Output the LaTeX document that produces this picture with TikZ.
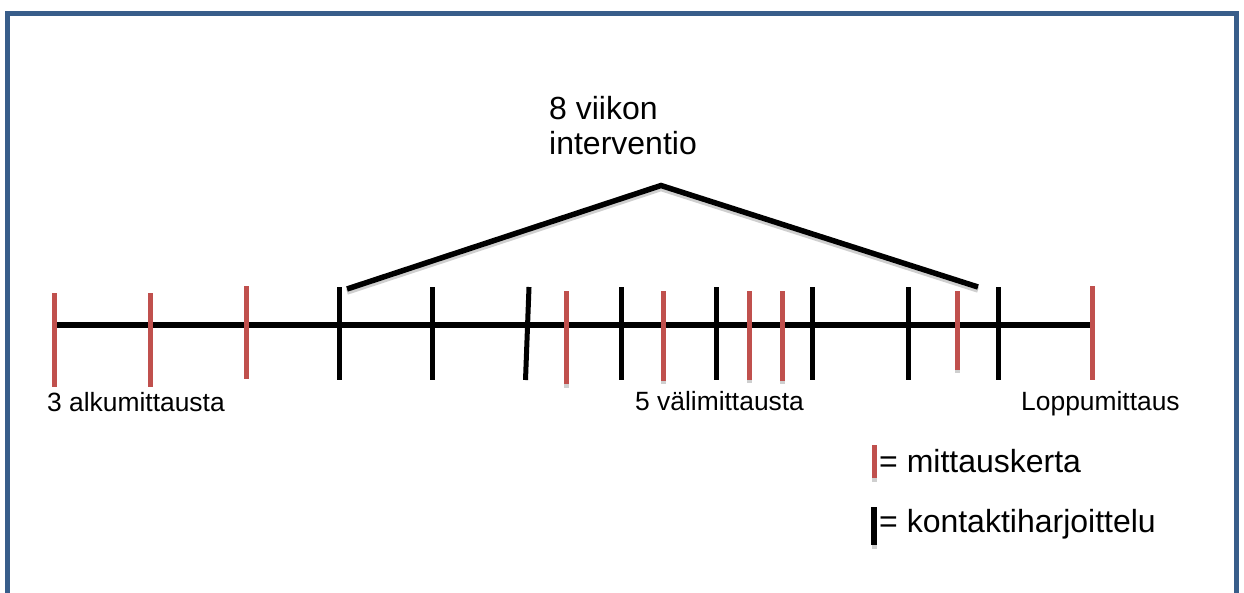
\documentclass[tikz,border=0pt]{standalone}
\usepackage{fontspec}
\setmainfont{Liberation Sans}
\definecolor{frameblue}{HTML}{385D8A}
\definecolor{measred}{HTML}{C0504D}
\definecolor{softshadow}{HTML}{CFCFCF}

\begin{document}
\begin{tikzpicture}[x=1pt,y=-1pt,
  redtick/.style={draw=measred,line width=5pt},
  blacktick/.style={draw=black,line width=5pt},
  tickshadow/.style={draw=softshadow,line width=5pt},
  axisline/.style={draw=black,line width=5.5pt},
  bracketline/.style={draw=black,line width=5.5pt,line join=miter},
  bracketshadow/.style={draw=softshadow,line width=5.5pt,line join=miter},
  smalltext/.style={inner sep=0pt,anchor=base west,font=\fontsize{26.4}{30}\selectfont},
  bigtext/.style={inner sep=0pt,font=\fontsize{32}{35}\selectfont}]

\useasboundingbox (0,0) rectangle (1244,592);
\clip (0,0) rectangle (1244,592);

% outer frame (open at the bottom edge of the page)
\draw[frameblue,line width=5pt] (7.5,610) -- (7.5,13.5) -- (1236.5,13.5) -- (1236.5,610);

% time axis
\coordinate (axisstart) at (55,325);
\coordinate (axisend) at (1092,325);
\draw[axisline] (axisstart) -- (axisend);

% soft shadows below some measurement ticks
\foreach \x/\t/\b in {566/291/388, 663/291/384, 749/291/383, 782/291/384, 957/291/373}
  \draw[tickshadow] (\x,\t) -- (\x,\b);

% measurement ticks
\foreach \x/\t/\b in {54/293/387, 150/293/387, 246/286/379, 566/291/384, 663/291/381,
                      749/291/380, 782/291/381, 957/291/370, 1092/286/380}
  \draw[redtick] (\x,\t) -- (\x,\b);

% contact-training ticks
\foreach \x in {339, 432, 621, 716, 812, 908, 998}
  \draw[blacktick] (\x,287) -- (\x,380);
\draw[blacktick] (529,287) -- (525.5,380);

% bracket over the intervention period
\coordinate (brleft) at (347,289);
\coordinate (brtop) at (661,185.5);
\coordinate (brright) at (978,287);
\draw[bracketshadow] ([yshift=-3pt]brleft) -- ([yshift=-3pt]brtop) -- ([yshift=-3pt]brright);
\draw[bracketline] (brleft) -- (brtop) -- (brright);

\node[bigtext,anchor=north west,align=left] (title) at (549,96) {8 viikon\\interventio};

% labels under the axis
\node[smalltext] (lblstart) at (47,411) {3 alkumittausta};
\node[smalltext] (lblmid) at (635,410) {5 välimittausta};
\node[smalltext] (lblend) at (1021,410) {Loppumittaus};

% legend
\draw[tickshadow] (874,445) -- (874,482);
\draw[redtick] (874,445) -- (874,478);
\draw[tickshadow] (874,507) -- (874,549);
\draw[blacktick,line width=5.5pt] (874,507) -- (874,545);
\node[bigtext,anchor=base west] (legred) at (879,472) {= mittauskerta};
\node[bigtext,anchor=base west] (legblack) at (879,532) {= kontaktiharjoittelu};
\end{tikzpicture}
\end{document}
